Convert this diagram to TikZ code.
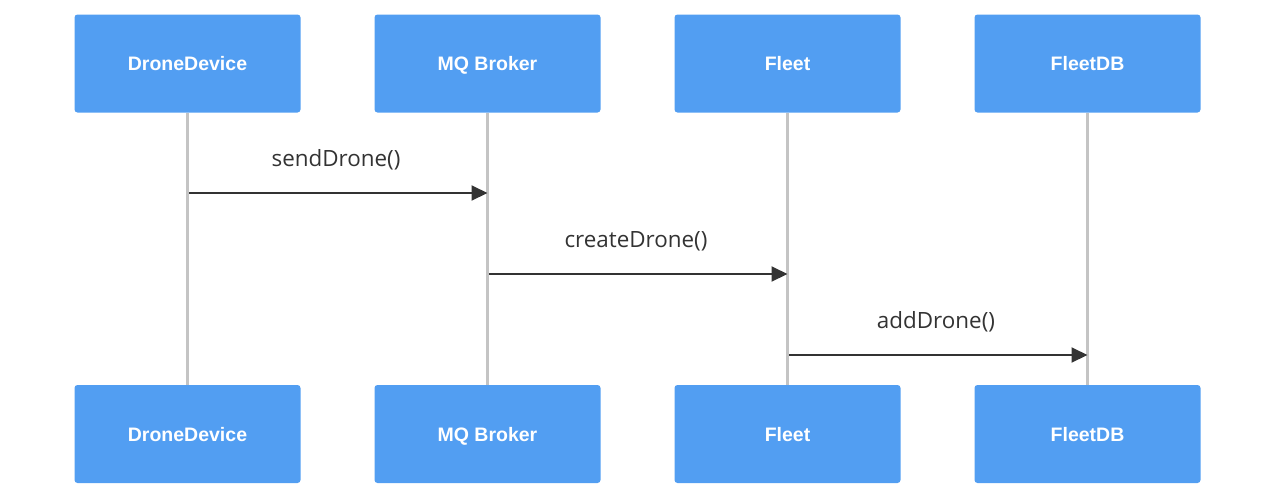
\documentclass[tikz,border=0pt]{standalone}
\usepackage{fontspec}
\setmainfont{Open Sans}
\newfontfamily\boxfont{Liberation Sans}
\usetikzlibrary{arrows.meta}
\definecolor{boxblue}{HTML}{529EF2}
\definecolor{lifegray}{HTML}{C4C4C4}
\definecolor{msgdark}{HTML}{333333}
\begin{document}
\begin{tikzpicture}[x=1pt,y=-1pt,
  actor/.style={fill=boxblue, draw=none, rounded corners=3pt, minimum width=226pt, minimum height=98pt,
    text=white, font=\boxfont\bfseries\fontsize{19.5}{22}\selectfont, inner sep=0pt,
    text height=14pt, text depth=0pt},
  lifeline/.style={draw=lifegray, line width=2.5pt},
  msg/.style={draw=msgdark, line width=2pt, -{Triangle[length=16pt,width=15pt]}},
  msglabel/.style={text=msgdark, font=\fontsize{22.4}{26}\selectfont, inner sep=0pt,
    text height=16pt, text depth=0pt}]
\useasboundingbox (0,0) rectangle (1275,499);
\foreach \n/\x/\t in {a/187.5/DroneDevice, b/487.5/MQ Broker, c/787.5/Fleet, d/1087.5/FleetDB}{
  \node[actor] (\n top) at (\x,63.5) {\t};
  \node[actor] (\n bot) at (\x,434) {\t};
  \draw[lifeline] (\n top.south) -- (\n bot.north);
}
\coordinate (s1) at (189,193); \coordinate (e1) at (487.5,193);
\coordinate (s2) at (489,274); \coordinate (e2) at (787.5,274);
\coordinate (s3) at (789,355); \coordinate (e3) at (1087.5,355);
\draw[msg] (s1) -- (e1);
\draw[msg] (s2) -- (e2);
\draw[msg] (s3) -- (e3);
\node[msglabel] (l1) at (336,158) {sendDrone()};
\node[msglabel] (l2) at (636,239) {createDrone()};
\node[msglabel] (l3) at (936,320) {addDrone()};
\end{tikzpicture}
\end{document}
